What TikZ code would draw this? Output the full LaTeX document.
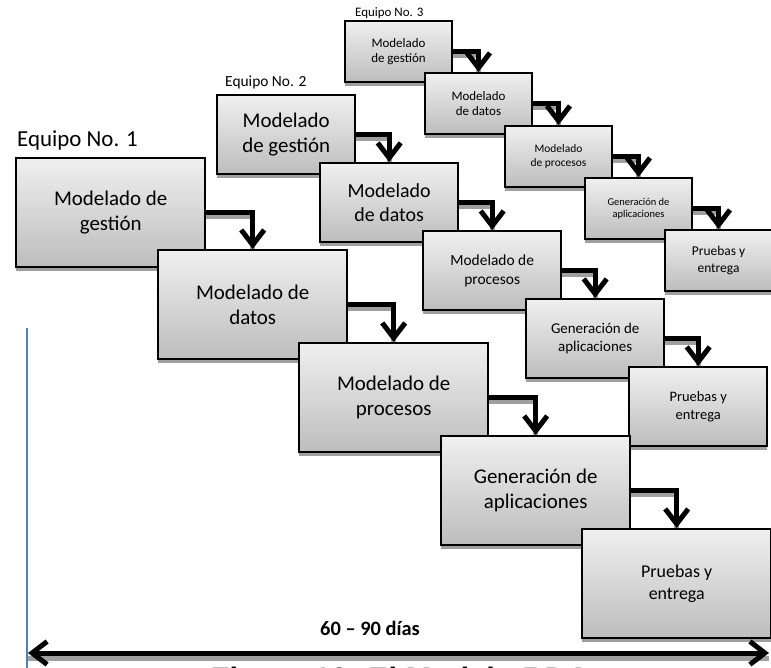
\documentclass[tikz,border=0pt]{standalone}
\usepackage{fontspec}
\setmainfont{Carlito}
\newfontfamily\captionfont{Liberation Sans}
\usetikzlibrary{arrows.meta,shadows}

\definecolor{axisblue}{HTML}{4F81BD}

\tikzset{
  phase/.style={draw=black, line width=2.4bp, shading=axis,
    top color=gray!12, bottom color=gray!52,
    drop shadow={shadow xshift=0bp, shadow yshift=-4bp, fill=gray!75, opacity=1},
    anchor=north west, align=center, inner sep=2bp},
  bigbox/.style={phase, minimum width=189bp, minimum height=109bp},
  midbox/.style={phase, minimum width=138bp, minimum height=79bp},
  smallbox/.style={phase, minimum width=107bp, minimum height=61bp, line width=2bp},
  fs/.style={font={\pgfmathsetmacro\fsbase{#1*1.2}\fontsize{#1}{\fsbase}\selectfont}},
  chev/.tip={Straight Barb[length=15bp,width=23bp,sharp]},
  flow/.style={line width=5bp, -chev},
  flowshadow/.style={line width=5bp, draw=gray!75},
  team/.style={anchor=base west, inner sep=0pt},
}

\newcommand{\flowarrow}[2]{%
  \draw[flowshadow] ([yshift=-4bp]#1.east) -| (#2.north);
  \draw[flow] (#1.east) -| (#2.north);}

\begin{document}
\begin{tikzpicture}[x=1bp, y=-1bp]
\useasboundingbox (0,0) rectangle (771,668);

% ---- Equipo No. 3 (small boxes, top) ----
\node[team, fs=13] (e3) at (355,17) {Equipo No. 3};
\node[smallbox, fs=13] (c1) at (344,20) {Modelado\\de gestión};
\node[smallbox, fs=13] (c2) at (424,72) {Modelado\\de datos};
\node[smallbox, fs=11.5] (c3) at (504,125) {Modelado\\de procesos};
\node[smallbox, fs=10.5] (c4) at (584,177) {Generación de\\aplicaciones};
\node[smallbox, fs=13.5] (c5) at (664,229) {Pruebas y\\entrega};

% ---- Equipo No. 2 (medium boxes) ----
\node[team, fs=15.5] (e2) at (225,87) {Equipo No. 2};
\node[midbox, fs=21] (b1) at (216,94) {Modelado\\de gestión};
\node[midbox, fs=20] (b2) at (319,162) {Modelado\\de datos};
\node[midbox, fs=15.5] (b3) at (422,230) {Modelado de\\procesos};
\node[midbox, fs=15] (b4) at (525,298) {Generación de\\aplicaciones};
\node[midbox, fs=14.5] (b5) at (628,366) {Pruebas y\\entrega};

% ---- Equipo No. 1 (large boxes) ----
\node[team, fs=23] (e1) at (17,147) {Equipo No. 1};
\node[bigbox, fs=21] (a1) at (15,157) {Modelado de\\gestión};
\node[bigbox, fs=21] (a2) at (157,249) {Modelado de\\datos};
\node[bigbox, fs=21] (a3) at (298,342) {Modelado de\\procesos};
\node[bigbox, fs=21] (a4) at (440,435) {Generación de\\aplicaciones};
\node[bigbox, fs=18] (a5) at (581,528) {Pruebas y\\entrega};

% ---- flow arrows between phases ----
\flowarrow{c1}{c2}\flowarrow{c2}{c3}\flowarrow{c3}{c4}\flowarrow{c4}{c5}
\flowarrow{b1}{b2}\flowarrow{b2}{b3}\flowarrow{b3}{b4}\flowarrow{b4}{b5}
\flowarrow{a1}{a2}\flowarrow{a2}{a3}\flowarrow{a3}{a4}\flowarrow{a4}{a5}

% ---- time axis ----
\coordinate (axtop) at (27,328);
\coordinate (axbot) at (27,668);
\draw[axisblue, line width=1.5bp] (axtop) -- (axbot);

\coordinate (spanL) at (28,653);
\coordinate (spanR) at (769,653);
\draw[flowshadow] ([yshift=-5bp]spanL) -- ([yshift=-5bp]spanR);
\draw[line width=5bp, chev-chev] (spanL) -- (spanR);
\node[anchor=base, font=\bfseries\fontsize{20.5}{24}\selectfont] (span) at (370,635) {60 – 90 días};

\node[anchor=base, font=\captionfont\bfseries\fontsize{31}{36}\selectfont] (cap) at (400,689) {Figura 10. El Modelo RDA};
\end{tikzpicture}
\end{document}
